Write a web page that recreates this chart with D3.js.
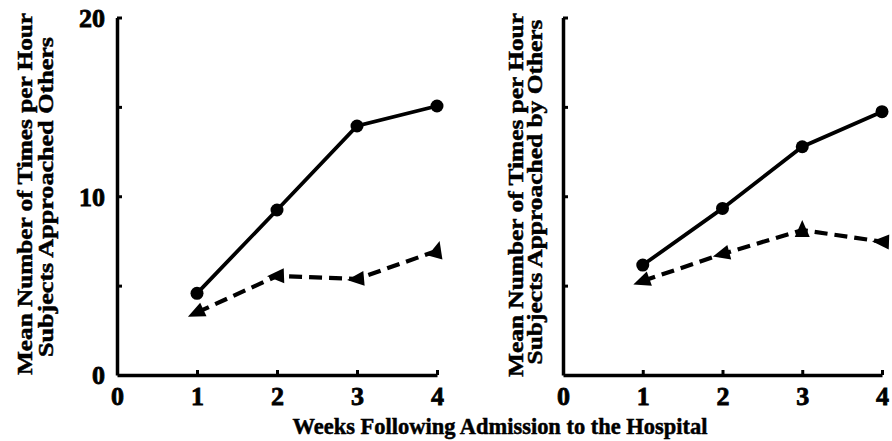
<!DOCTYPE html>
<html><head><meta charset="utf-8">
<script src="https://cdn.jsdelivr.net/npm/d3@7"></script>
<style>
body{margin:0;background:#fff}
svg{display:block}
text{font-family:"Liberation Serif","Times New Roman",serif;font-weight:bold;fill:#000;stroke:#000;stroke-width:0.5px}
</style>
</head><body>
<svg id="chart" width="892" height="441"></svg>
<script>
// ---- data ----
const weeks = [1, 2, 3, 4];
const xTicks = [0, 1, 2, 3, 4];
const yTicks = [0, 5, 10, 15, 20];
const yTickLabelsLeft = ["0", "", "10", "", "20"];
const approachedOthersSolid  = [4.57, 9.23, 13.93, 15.05];
const approachedOthersDashed = [3.5, 5.54, 5.37, 6.95];
const approachedBySolid  = [6.15, 9.32, 12.77, 14.73];
const approachedByDashed = [5.26, 6.77, 8.11, 7.46];
const leftTitle  = ["Mean Number of Times per Hour", "Subjects Approached Others"];
const rightTitle = ["Mean Number of Times per Hour", "Subjects Approached by Others"];
const xTitle = "Weeks Following Admission to the Hospital";

// ---- style (marker directions in degrees, screen coordinates) ----
const leftArrowDir  = [155, 178, 175, -75];
const rightArrowDir = [160, 165, -90, 182];

const svg = d3.select("#chart");
const y = d3.scaleLinear().domain([0, 20]).range([375, 17.5]);

function panel(cfg) {
  const x = d3.scaleLinear().domain([0, 4]).range(cfg.xr);
  const g = svg.append("g");

  const ya = d3.axisLeft(y).tickValues(yTicks).tickSize(-5).tickSizeOuter(0).tickPadding(12)
    .tickFormat((d, i) => cfg.yLabels ? cfg.yLabels[i] : "");
  const yg = g.append("g").attr("transform", `translate(${cfg.xr[0]},0)`).call(ya);
  const xa = d3.axisBottom(x).tickValues(xTicks).tickSize(-5).tickSizeOuter(0).tickPadding(12)
    .tickFormat(d3.format("d"));
  const xg = g.append("g").attr("transform", `translate(0,${y(0)})`).call(xa);
  [yg, xg].forEach(a => {
    a.select(".domain").attr("stroke", "#000").attr("stroke-width", 3.5);
    a.selectAll(".tick line").attr("stroke", "#000").attr("stroke-width", 3);
    a.selectAll(".tick text").style("font-size", "26px").attr("fill", "#000")
      .style("font-family", '"Liberation Serif",serif').style("font-weight", "bold")
      .style("stroke", "#000").style("stroke-width", "0.8px");
  });
  xg.selectAll(".tick").filter(d => d === 0).select("line").remove();
  yg.selectAll(".tick").filter(d => d === 0).select("line").remove();
  yg.selectAll(".tick text").attr("dy", "0.34em");

  const line = d3.line().x((d, i) => x(weeks[i])).y(d => y(d));
  g.append("path").datum(cfg.solid).attr("d", line)
    .attr("fill", "none").attr("stroke", "#000").attr("stroke-width", 3.8);
  g.append("path").datum(cfg.dashed).attr("d", line)
    .attr("fill", "none").attr("stroke", "#000").attr("stroke-width", 4.2)
    .attr("stroke-dasharray", "13,7");

  g.selectAll("circle.m").data(cfg.solid).join("circle")
    .attr("cx", (d, i) => x(weeks[i])).attr("cy", d => y(d)).attr("r", 6.5).attr("fill", "#000");
  g.selectAll("path.tri").data(cfg.dashed).join("path")
    .attr("d", "M10,0 L-7,-7.5 L-7,7.5 Z").attr("fill", "#000")
    .attr("transform", (d, i) => `translate(${x(weeks[i])},${y(d)}) rotate(${cfg.arrows[i]})`);

  cfg.titles.forEach((t, i) => {
    g.append("text").text(t.text)
      .attr("transform", `translate(${t.bx},${t.cy}) rotate(-90)`)
      .attr("text-anchor", "middle").style("font-size", "22px")
      .attr("textLength", t.len).attr("lengthAdjust", "spacingAndGlyphs");
  });
}

panel({
  xr: [117, 437], solid: approachedOthersSolid, dashed: approachedOthersDashed,
  arrows: leftArrowDir, yLabels: yTickLabelsLeft,
  titles: [
    {text: leftTitle[0], bx: 32, cy: 194, len: 362},
    {text: leftTitle[1], bx: 53, cy: 197, len: 320}
  ]
});
panel({
  xr: [563, 882], solid: approachedBySolid, dashed: approachedByDashed,
  arrows: rightArrowDir, yLabels: null,
  titles: [
    {text: rightTitle[0], bx: 523, cy: 195, len: 364},
    {text: rightTitle[1], bx: 542, cy: 192, len: 345}
  ]
});

svg.append("text").text(xTitle).attr("x", 500).attr("y", 434)
  .attr("text-anchor", "middle").style("font-size", "23px")
  .attr("textLength", 415).attr("lengthAdjust", "spacingAndGlyphs");
</script>
</body></html>
